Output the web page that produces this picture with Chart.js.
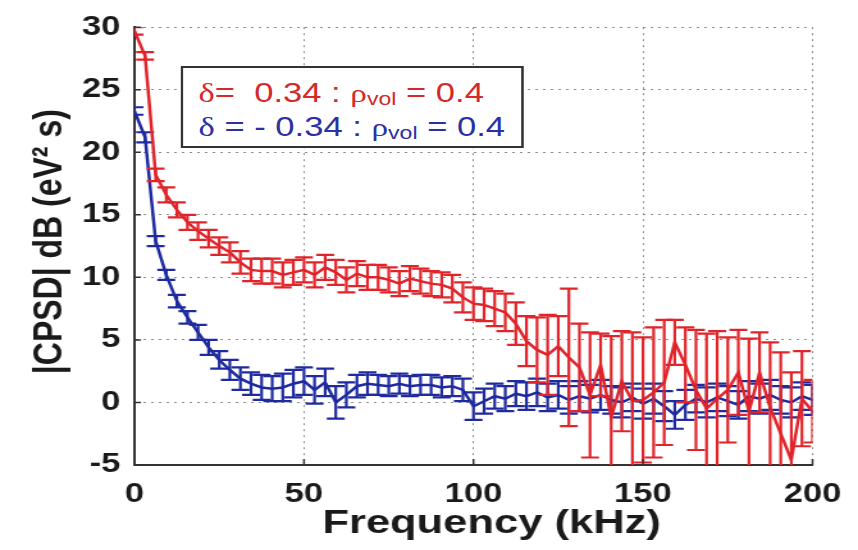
<!DOCTYPE html>
<html>
<head>
<meta charset="utf-8">
<script src="https://cdn.jsdelivr.net/npm/chart.js@4/dist/chart.umd.min.js"></script>
<style>
  body { margin: 0; background: #fff; overflow: hidden; }
  /* the original figure is stretched sideways, so draw narrow and stretch it the same way */
  #wrap { position: relative; width: 670px; height: 550px; transform: scaleX(1.2806); transform-origin: 0 0; }
  #legendBox {
    position: absolute; left: 141px; top: 66px; width: 268px; height: 82px;
    box-sizing: border-box; border: 2px solid #333; background: #fff;
    font-family: "Liberation Sans", Arial, sans-serif; font-size: 27px;
  }
  #legendBox .ln { position: absolute; left: 12px; line-height: 27px; white-space: pre; }
  #legendBox .g { font-family: "Liberation Serif", serif; }
  #legendBox .rho { font-family: "Liberation Serif", serif; font-size: 26px; }
  #legendBox sub { font-size: 18px; vertical-align: -3px; }
</style>
</head>
<body>
<div id="wrap">
  <canvas id="cpsdChart" width="670" height="550"></canvas>
  <div id="legendBox">
    <div class="ln" style="top:12px;color:#d42a2a"><span class="g">δ</span>=  0.34 : <span class="rho">ρ</span><sub>vol</sub> = 0.4</div>
    <div class="ln" style="top:46px;color:#2b30a3"><span class="g">δ</span> = - 0.34 : <span class="rho">ρ</span><sub>vol</sub> = 0.4</div>
  </div>
</div>
<script>
// frequency bins (kHz)
const freqs = [0, 3.125, 6.25, 9.375, 12.5, 15.625, 18.75, 21.875, 25, 28.125,
  31.25, 34.375, 37.5, 40.625, 43.75, 46.875, 50, 53.125, 56.25, 59.375,
  62.5, 65.625, 68.75, 71.875, 75, 78.125, 81.25, 84.375, 87.5, 90.625,
  93.75, 96.875, 100, 103.125, 106.25, 109.375, 112.5, 115.625, 118.75, 121.875,
  125, 128.125, 131.25, 134.375, 137.5, 140.625, 143.75, 146.875, 150, 153.125,
  156.25, 159.375, 162.5, 165.625, 168.75, 171.875, 175, 178.125, 181.25, 184.375,
  187.5, 190.625, 193.75, 196.875, 200];

// delta = 0.34
const redVals = [29.7, 27.7, 18.2, 16.6, 15.4, 14.4, 13.7, 13.1, 12.5, 12.0,
  11.2, 10.6, 10.5, 10.5, 10.2, 10.4, 10.6, 10.2, 10.8, 10.4,
  9.8, 10.3, 10.0, 10.0, 9.8, 9.5, 9.9, 9.7, 9.5, 9.4,
  9.1, 8.4, 7.9, 7.8, 7.5, 7.2, 6.3, 4.9, 4.2, 3.8,
  4.5, 3.6, 2.8, 0.6, 3.0, -1.2, 1.7, 0.1, 0.2, 0.8,
  1.6, 4.8, 3.0, 1.0, -0.5, 0.3, 1.0, 2.4, -0.7, 2.4,
  -0.4, -2.5, -4.6, 0.3, -0.7];
const redErr = [0.3, 0.3, 0.5, 0.6, 0.6, 0.6, 0.7, 0.7, 0.7, 0.8,
  0.9, 0.9, 1.0, 1.0, 1.0, 1.0, 1.0, 1.0, 1.0, 1.0,
  1.0, 1.0, 1.0, 1.0, 1.0, 1.0, 1.0, 1.0, 1.0, 1.0,
  1.1, 1.2, 1.3, 1.3, 1.4, 1.5, 1.7, 2.0, 2.6, 3.2,
  2.4, 5.5, 3.5, 5.0, 2.5, 6.5, 4.0, 5.5, 5.0, 5.2,
  5.0, 1.8, 3.0, 4.8, 6.0, 5.4, 4.2, 3.4, 5.8, 3.2,
  5.2, 6.5, 7.0, 3.8, 2.5];

// delta = -0.34
const blueVals = [23.3, 21.2, 12.9, 10.2, 8.1, 6.8, 5.6, 4.4, 3.4, 2.6,
  1.9, 1.5, 1.2, 1.1, 1.2, 1.5, 1.7, 1.0, 1.6, 0.0,
  0.6, 1.3, 1.5, 1.4, 1.3, 1.5, 1.3, 1.4, 1.4, 1.2,
  1.3, 1.0, -0.3, 0.1, 0.5, 0.3, 0.7, 0.5, 0.8, 0.4,
  0.6, 0.2, 0.5, 0.3, 0.6, 0.2, 0.0, 0.4, -0.1, 0.3,
  -0.3, -1.0, -0.2, 0.3, 0.0, 0.4, 0.1, -0.2, 0.5, 0.3,
  0.6, 0.2, 0.0, 0.5, 0.2];
const blueErr = [0.3, 0.4, 0.4, 0.4, 0.5, 0.5, 0.6, 0.6, 0.7, 0.8,
  0.9, 0.9, 1.0, 1.0, 1.1, 1.1, 1.1, 1.1, 1.1, 1.3,
  1.0, 0.9, 0.9, 0.8, 0.8, 0.8, 0.8, 0.8, 0.8, 0.8,
  0.8, 0.9, 1.1, 1.0, 1.0, 1.0, 1.0, 1.1, 1.1, 1.1,
  1.1, 1.1, 1.2, 1.1, 1.2, 1.1, 1.2, 1.1, 1.2, 1.2,
  1.2, 1.1, 1.2, 1.1, 1.2, 1.1, 1.2, 1.1, 1.2, 1.2,
  1.2, 1.1, 1.2, 1.1, 1.2];

const xTicks = [0, 50, 100, 150, 200];
const yTicks = [-5, 0, 5, 10, 15, 20, 25, 30];

const RED = "#e0242a";
const BLUE = "#1f2a9e";
const FONT = '"Liberation Sans", Arial, sans-serif';

function toPoints(vals) {
    return freqs.map((f, i) => ({ x: f, y: vals[i] }));
}

// error bars drawn right after each dataset, through the chart scales
const errorBars = {
    id: "errorBars",
    afterDatasetDraw(chart, args) {
        const ds = chart.data.datasets[args.index];
        const xs = chart.scales.x, ys = chart.scales.y;
        const area = chart.chartArea;
        const ctx = chart.ctx;
        const cap = 7;
        ctx.save();
        ctx.beginPath();
        ctx.rect(area.left, area.top, area.right - area.left, area.bottom - area.top);
        ctx.clip();
        ctx.strokeStyle = ds.borderColor;
        ctx.lineWidth = 2.2;
        ds.data.forEach((p, i) => {
            const e = ds.errors[i];
            const px = xs.getPixelForValue(p.x);
            const yTop = ys.getPixelForValue(p.y + e);
            const yBot = ys.getPixelForValue(p.y - e);
            ctx.beginPath();
            ctx.moveTo(px, yTop); ctx.lineTo(px, yBot);
            ctx.moveTo(px - cap, yTop); ctx.lineTo(px + cap, yTop);
            ctx.moveTo(px - cap, yBot); ctx.lineTo(px + cap, yBot);
            ctx.stroke();
        });
        ctx.restore();
    }
};

// inward tick marks like the matlab axes
const innerTicks = {
    id: "innerTicks",
    afterDraw(chart) {
        const xs = chart.scales.x, ys = chart.scales.y;
        const area = chart.chartArea;
        const ctx = chart.ctx;
        ctx.save();
        ctx.strokeStyle = "#333";
        ctx.lineWidth = 1.5;
        ctx.beginPath();
        xTicks.forEach(v => {
            const px = xs.getPixelForValue(v);
            ctx.moveTo(px, area.bottom); ctx.lineTo(px, area.bottom - 6);
        });
        yTicks.forEach(v => {
            const py = ys.getPixelForValue(v);
            ctx.moveTo(area.left, py); ctx.lineTo(area.left + 5, py);
        });
        ctx.stroke();
        ctx.restore();
    }
};

const ctx = document.getElementById("cpsdChart").getContext("2d");
new Chart(ctx, {
    type: "line",
    data: {
        datasets: [{
            label: "δ = 0.34 : ρvol = 0.4",
            data: toPoints(redVals),
            errors: redErr,
            borderColor: RED,
            borderWidth: 2.5,
            pointRadius: 0,
            tension: 0
        }, {
            label: "δ = -0.34 : ρvol = 0.4",
            data: toPoints(blueVals),
            errors: blueErr,
            borderColor: BLUE,
            borderWidth: 2.5,
            pointRadius: 0,
            tension: 0
        }]
    },
    options: {
        responsive: false,
        animation: false,
        layout: { padding: { top: 20, right: 30, left: 0, bottom: 0 } },
        plugins: {
            legend: { display: false },
            tooltip: { enabled: false }
        },
        scales: {
            x: {
                type: "linear",
                min: 0, max: 200,
                afterBuildTicks: s => { s.ticks = xTicks.map(v => ({ value: v })); },
                afterFit: s => { s.height = 85; },
                ticks: { color: "#1a1a1a", padding: 13, font: { family: FONT, size: 27, weight: "bold" } },
                grid: { color: "#8c8c8c", lineWidth: 1, drawTicks: false },
                border: { display: true, color: "#333", width: 2, dash: [2, 4] },
                title: {
                    display: true, text: "   Frequency (kHz)", color: "#1a1a1a",
                    font: { family: FONT, size: 34, weight: "bold" },
                    padding: { top: 0, bottom: 6 }
                }
            },
            y: {
                min: -5, max: 30,
                afterBuildTicks: s => { s.ticks = yTicks.map(v => ({ value: v })); },
                afterFit: s => { s.width = 105; },
                ticks: { color: "#1a1a1a", padding: 11, font: { family: FONT, size: 27, weight: "bold" } },
                grid: { color: "#8c8c8c", lineWidth: 1, drawTicks: false },
                border: { display: true, color: "#333", width: 2, dash: [2, 4] },
                title: {
                    display: true, text: " |CPSD| dB (eV² s)", color: "#1a1a1a",
                    font: { family: FONT, size: 32, weight: "bold" },
                    padding: { top: 20, bottom: 0 }
                }
            }
        }
    },
    plugins: [errorBars, innerTicks]
});
</script>
</body>
</html>
